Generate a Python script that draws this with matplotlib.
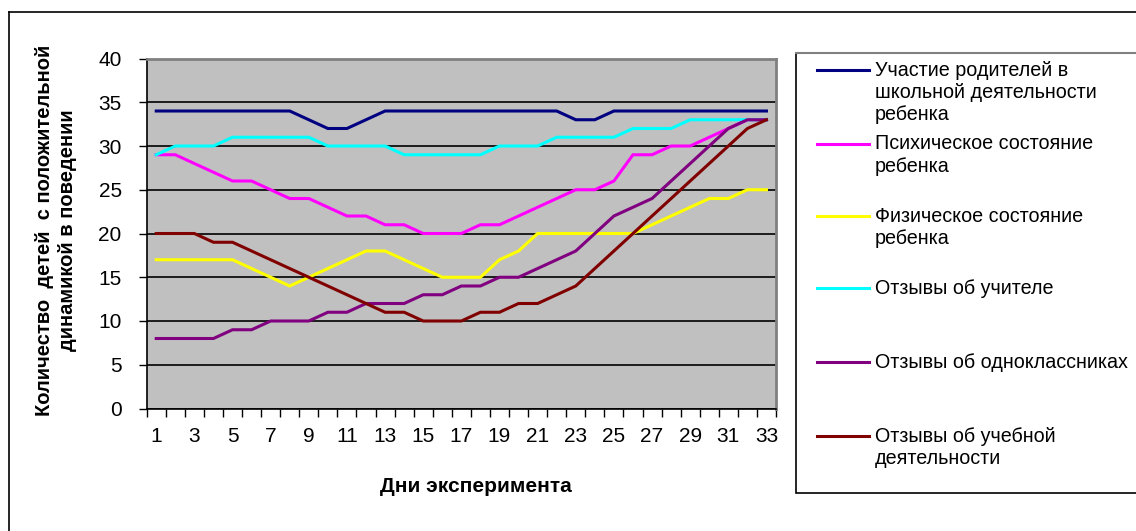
import matplotlib
matplotlib.use("Agg")
import matplotlib.pyplot as plt
from matplotlib.lines import Line2D
from matplotlib.patches import Rectangle

plt.rcParams["font.family"] = ["Liberation Sans", "DejaVu Sans"]

# Дни эксперимента
days = list(range(1, 34))

# Ряды данных
parents = [34, 34, 34, 34, 34, 34, 34, 34, 33, 32, 32, 33, 34, 34, 34, 34, 34,
           34, 34, 34, 34, 34, 33, 33, 34, 34, 34, 34, 34, 34, 34, 34, 34]
psych = [29, 29, 28, 27, 26, 26, 25, 24, 24, 23, 22, 22, 21, 21, 20, 20, 20,
         21, 21, 22, 23, 24, 25, 25, 26, 29, 29, 30, 30, 31, 32, 33, 33]
phys = [17, 17, 17, 17, 17, 16, 15, 14, 15, 16, 17, 18, 18, 17, 16, 15, 15,
        15, 17, 18, 20, 20, 20, 20, 20, 20, 21, 22, 23, 24, 24, 25, 25]
teacher = [29, 30, 30, 30, 31, 31, 31, 31, 31, 30, 30, 30, 30, 29, 29, 29, 29,
           29, 30, 30, 30, 31, 31, 31, 31, 32, 32, 32, 33, 33, 33, 33, 33]
classmates = [8, 8, 8, 8, 9, 9, 10, 10, 10, 11, 11, 12, 12, 12, 13, 13, 14,
              14, 15, 15, 16, 17, 18, 20, 22, 23, 24, 26, 28, 30, 32, 33, 33]
study = [20, 20, 20, 19, 19, 18, 17, 16, 15, 14, 13, 12, 11, 11, 10, 10, 10,
         11, 11, 12, 12, 13, 14, 16, 18, 20, 22, 24, 26, 28, 30, 32, 33]

series = [
    (parents, "#000080", ["Участие родителей в", "школьной деятельности", "ребенка"]),
    (psych, "#FF00FF", ["Психическое состояние", "ребенка"]),
    (phys, "#FFFF00", ["Физическое состояние", "ребенка"]),
    (teacher, "#00FFFF", ["Отзывы об учителе"]),
    (classmates, "#800080", ["Отзывы об одноклассниках"]),
    (study, "#800000", ["Отзывы об учебной", "деятельности"]),
]

W, H = 1136, 531
fig = plt.figure(figsize=(W / 100, H / 100), dpi=100)


def fx(px):
    return px / W


def fy(py):
    return 1 - py / H


# внешняя рамка
fig.add_artist(Line2D([fx(9), fx(9)], [fy(12), fy(540)], color="black", lw=1.2))
fig.add_artist(Line2D([fx(9), fx(1140)], [fy(12), fy(12)], color="black", lw=1.2))

ax = fig.add_axes([fx(146.7), fy(408.5), (776 - 146.7) / W, 350 / H])
ax.set_facecolor("#C0C0C0")

for vals, color, label in series:
    ax.plot(days, vals, color=color, lw=2.2, solid_joinstyle="miter")

ax.set_xlim(0.5, 33.5)
ax.set_ylim(0, 40)
ax.set_yticks(range(0, 41, 5))
ax.set_xticks(days[::2])
ax.set_xticks([d - 0.5 for d in days] + [33.5], minor=True)
ax.tick_params(axis="x", which="major", length=0, labelsize=15, pad=13)
ax.tick_params(axis="x", which="minor", length=6, width=1, direction="out")
ax.tick_params(axis="y", length=6, width=1, direction="out", labelsize=15, pad=12)
ax.grid(axis="y", color="black", lw=1.2)
ax.set_axisbelow(True)

for side in ("left", "bottom"):
    ax.spines[side].set_color("black")
    ax.spines[side].set_linewidth(1.2)
for side in ("top", "right"):
    ax.spines[side].set_color("#808080")
    ax.spines[side].set_linewidth(2)

fig.text(fx(476), fy(487), "Дни эксперимента", ha="center", va="center",
         fontsize=15, fontweight="bold")
fig.text(fx(56), fy(230), "Количество  детей  с положительной\nдинамикой в поведении",
         rotation=90, ha="center", va="center", fontsize=14.5, fontweight="bold",
         linespacing=1.25)

# легенда
fig.add_artist(Rectangle((fx(796), fy(493)), fx(400), 440 / H, transform=fig.transFigure,
                         facecolor="white", edgecolor="black", lw=1.2))
fig.add_artist(Line2D([fx(796), fx(1140)], [fy(53), fy(53)], color="#808080", lw=1.5))
entry_y = [70, 144, 216, 288, 362, 436]
for (vals, color, label), ey in zip(series, entry_y):
    fig.add_artist(Line2D([fx(817), fx(869)], [fy(ey), fy(ey)], color=color, lw=2.2))
    for k, line in enumerate(label):
        fig.text(fx(875), fy(ey + k * 22.3), line, ha="left", va="center", fontsize=14.2)

fig.savefig("out.png", dpi=100)
